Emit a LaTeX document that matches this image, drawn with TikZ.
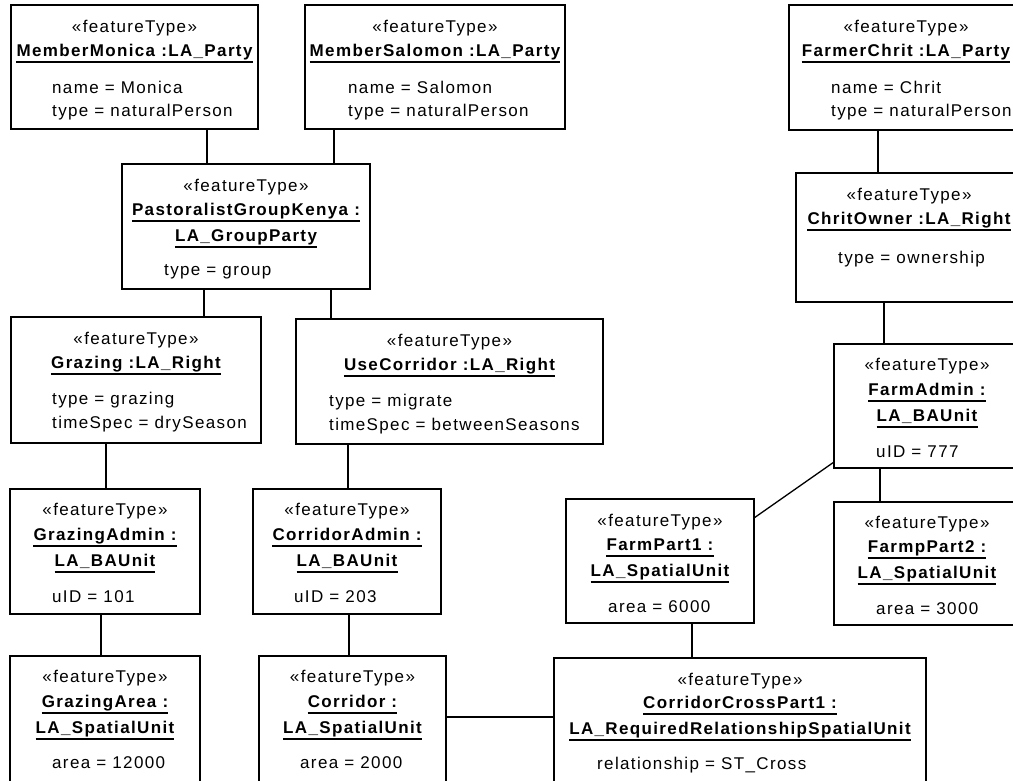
\documentclass[tikz,border=0pt]{standalone}
\usepackage{fontspec}
\setmainfont{Liberation Sans}[LetterSpace=8]
\tikzset{
  objbox/.style={draw, line width=1.5pt, inner sep=0pt, outer sep=0pt, anchor=north west},
  conn/.style={line width=1.3pt},
  stereost/.style={inner sep=0pt, anchor=base, font=\fontsize{17}{20}\selectfont},
  titlest/.style={inner sep=0pt, anchor=base, font=\fontsize{17}{20}\selectfont\bfseries},
  attrst/.style={inner sep=0pt, anchor=base west, font=\fontsize{17}{20}\selectfont},
  ulst/.style={line width=1.2pt}
}
\newcommand\objb[5]{\node[objbox, minimum width={#4pt-#2pt}, minimum height={#5pt-#3pt}] (#1) at (#2,#3) {};}
\newcommand\stt[3]{\node[stereost] (#1-s) at (#2,#3) {«featureType»};}
\newcommand\ttl[4]{\node[titlest] (#1) at (#2,#3) {#4};
  \draw[ulst] ([yshift=-6pt]#1.base west) -- ([yshift=-6pt]#1.base east);}
\newcommand\att[4]{\node[attrst] (#1) at (#2,#3) {#4};}
\begin{document}
\begin{tikzpicture}[x=1pt,y=-1pt]
\useasboundingbox (0,0) rectangle (1013,780);
\clip (0,0) rectangle (1013,780);
% boxes
\objb{monica}{11}{5}{258}{129}
\stt{monica}{134.5}{32}
\ttl{monica-t}{134.5}{56}{MemberMonica :LA\_Party}
\att{monica-a1}{52}{93}{name = Monica}
\att{monica-a2}{52}{116}{type = naturalPerson}

\objb{salomon}{305}{5}{565}{129}
\stt{salomon}{435}{32}
\ttl{salomon-t}{435}{56}{MemberSalomon :LA\_Party}
\att{salomon-a1}{348}{93}{name = Salomon}
\att{salomon-a2}{348}{116}{type = naturalPerson}

\objb{chrit}{789}{5}{1023}{130}
\stt{chrit}{906}{32}
\ttl{chrit-t}{906}{56}{FarmerChrit :LA\_Party}
\att{chrit-a1}{831}{93}{name = Chrit}
\att{chrit-a2}{831}{116}{type = naturalPerson}

\objb{pastoral}{122}{164}{370}{289}
\stt{pastoral}{246}{191}
\ttl{pastoral-t1}{246}{215}{PastoralistGroupKenya :}
\ttl{pastoral-t2}{246}{241}{LA\_GroupParty}
\att{pastoral-a1}{164}{275}{type = group}

\objb{chritowner}{796}{173}{1022}{302}
\stt{chritowner}{909}{200}
\ttl{chritowner-t}{909}{224}{ChritOwner :LA\_Right}
\att{chritowner-a1}{838}{263}{type = ownership}

\objb{grazing}{11}{317}{261}{443}
\stt{grazing}{136}{344}
\ttl{grazing-t}{136}{368}{Grazing :LA\_Right}
\att{grazing-a1}{52}{404}{type = grazing}
\att{grazing-a2}{52}{428}{timeSpec = drySeason}

\objb{usecorr}{296}{319}{603}{444}
\stt{usecorr}{449.5}{346}
\ttl{usecorr-t}{449.5}{370}{UseCorridor :LA\_Right}
\att{usecorr-a1}{329}{406}{type = migrate}
\att{usecorr-a2}{329}{430}{timeSpec = betweenSeasons}

\objb{farmadmin}{834}{344}{1020}{468}
\stt{farmadmin}{927}{370}
\ttl{farmadmin-t1}{927}{395}{FarmAdmin :}
\ttl{farmadmin-t2}{927}{421}{LA\_BAUnit}
\att{farmadmin-a1}{876}{457}{uID = 777}

\objb{gadmin}{10}{489}{200}{614}
\stt{gadmin}{105}{515}
\ttl{gadmin-t1}{105}{540}{GrazingAdmin :}
\ttl{gadmin-t2}{105}{566}{LA\_BAUnit}
\att{gadmin-a1}{52}{602}{uID = 101}

\objb{cadmin}{253}{489}{441}{614}
\stt{cadmin}{347}{515}
\ttl{cadmin-t1}{347}{540}{CorridorAdmin :}
\ttl{cadmin-t2}{347}{566}{LA\_BAUnit}
\att{cadmin-a1}{294}{602}{uID = 203}

\objb{fp1}{566}{499}{754}{623}
\stt{fp1}{660}{526}
\ttl{fp1-t1}{660}{550}{FarmPart1 :}
\ttl{fp1-t2}{660}{576}{LA\_SpatialUnit}
\att{fp1-a1}{608}{612}{area = 6000}

\objb{fp2}{834}{502}{1020}{625}
\stt{fp2}{927}{528}
\ttl{fp2-t1}{927}{552}{FarmpPart2 :}
\ttl{fp2-t2}{927}{578}{LA\_SpatialUnit}
\att{fp2-a1}{876}{614}{area = 3000}

\objb{garea}{10}{656}{200}{800}
\stt{garea}{105}{682}
\ttl{garea-t1}{105}{707}{GrazingArea :}
\ttl{garea-t2}{105}{733}{LA\_SpatialUnit}
\att{garea-a1}{52}{768}{area = 12000}

\objb{corr}{259}{656}{446}{800}
\stt{corr}{352.5}{682}
\ttl{corr-t1}{352.5}{707}{Corridor :}
\ttl{corr-t2}{352.5}{733}{LA\_SpatialUnit}
\att{corr-a1}{300}{768}{area = 2000}

\objb{cross}{554}{658}{926}{800}
\stt{cross}{740}{685}
\ttl{cross-t1}{740}{708}{CorridorCrossPart1 :}
\ttl{cross-t2}{740}{734}{LA\_RequiredRelationshipSpatialUnit}
\att{cross-a1}{597}{769}{relationship = ST\_Cross}

% connector guides
\coordinate (v207) at (207,0);
\coordinate (v334) at (334,0);
\coordinate (v878) at (878,0);
\coordinate (v204) at (204,0);
\coordinate (v331) at (331,0);
\coordinate (v884) at (884,0);
\coordinate (v106) at (106,0);
\coordinate (v348) at (348,0);
\coordinate (v880) at (880,0);
\coordinate (v101) at (101,0);
\coordinate (v349) at (349,0);
\coordinate (v692) at (692,0);
\coordinate (h717) at (0,717);
\coordinate (h462) at (0,462);
\coordinate (h518) at (0,518);

\draw[conn] (monica.south -| v207) -- (pastoral.north -| v207);
\draw[conn] (salomon.south -| v334) -- (pastoral.north -| v334);
\draw[conn] (chrit.south -| v878) -- (chritowner.north -| v878);
\draw[conn] (pastoral.south -| v204) -- (grazing.north -| v204);
\draw[conn] (pastoral.south -| v331) -- (usecorr.north -| v331);
\draw[conn] (chritowner.south -| v884) -- (farmadmin.north -| v884);
\draw[conn] (grazing.south -| v106) -- (gadmin.north -| v106);
\draw[conn] (usecorr.south -| v348) -- (cadmin.north -| v348);
\draw[conn] (farmadmin.south -| v880) -- (fp2.north -| v880);
\draw[conn] (farmadmin.west |- h462) -- (fp1.east |- h518);
\draw[conn] (gadmin.south -| v101) -- (garea.north -| v101);
\draw[conn] (cadmin.south -| v349) -- (corr.north -| v349);
\draw[conn] (fp1.south -| v692) -- (cross.north -| v692);
\draw[conn] (corr.east |- h717) -- (cross.west |- h717);
\end{tikzpicture}
\end{document}
